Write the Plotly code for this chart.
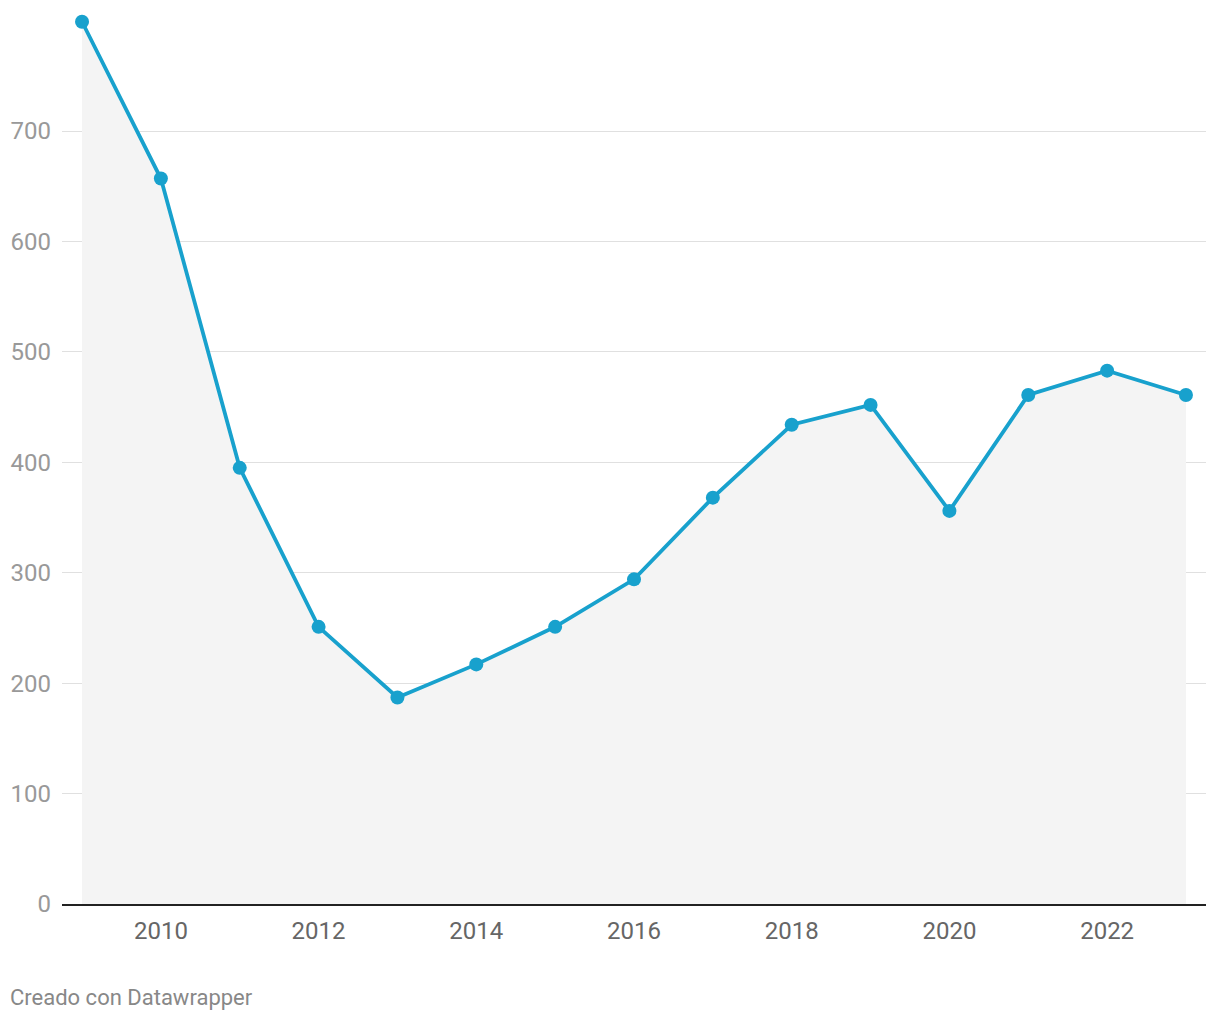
import plotly.graph_objects as go

years = list(range(2009, 2024))
values = [799, 657, 395, 251, 187, 217, 251, 294, 368, 434, 452, 356, 461, 483, 461]
ytick_vals = [0, 100, 200, 300, 400, 500, 600, 700]
xtick_vals = [2010, 2012, 2014, 2016, 2018, 2020, 2022]

fig = go.Figure()
fig.add_trace(go.Scatter(
    x=years, y=values, mode="lines+markers",
    line=dict(color="#18a1cd", width=3.8),
    marker=dict(size=14, color="#18a1cd"),
    fill="tozeroy", fillcolor="#f4f4f4",
    hoverinfo="x+y",
))

fig.update_layout(
    width=1220, height=1020,
    margin=dict(l=62, r=14, t=14, b=116),
    paper_bgcolor="white", plot_bgcolor="white",
    showlegend=False,
    font=dict(family="Roboto", size=24, color="#999999"),
    xaxis=dict(
        range=[2008.746, 2023.254],
        tickvals=xtick_vals,
        tickfont=dict(color="#666666", size=24),
        showgrid=False, zeroline=False,
        showline=True, linecolor="#222222", linewidth=2,
        ticks="", ticklabelstandoff=4, automargin=False,
    ),
    yaxis=dict(
        range=[0, 806],
        tickvals=ytick_vals,
        tickfont=dict(color="#999999", size=24),
        showgrid=True, gridcolor="#e0e0e0", gridwidth=1,
        zeroline=False, showline=False,
        ticks="", ticklabelstandoff=10, automargin=False,
    ),
    annotations=[dict(
        text="Creado con Datawrapper", x=0, y=0,
        xref="paper", yref="paper", xanchor="left", yanchor="middle",
        xshift=-54, yshift=-93, showarrow=False,
        font=dict(family="Roboto", size=22, color="#888888"),
    )],
)

fig.write_html("out.html")
